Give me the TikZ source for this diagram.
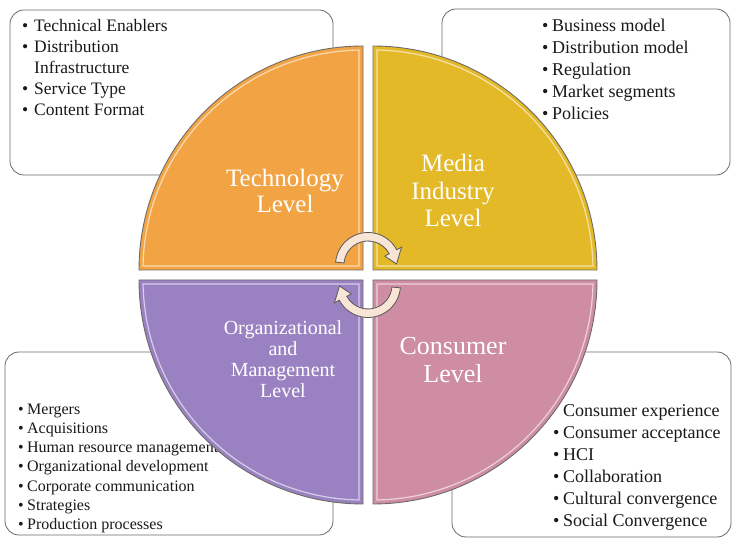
\documentclass[tikz,border=0pt]{standalone}
\usepackage{fontspec}
\setmainfont{Liberation Serif}
\definecolor{techorange}{HTML}{F2A444}
\definecolor{mediayellow}{HTML}{E4B928}
\definecolor{orgpurple}{HTML}{9A82C2}
\definecolor{conspink}{HTML}{CE8DA3}
\definecolor{turnfill}{HTML}{F8E5D6}
\definecolor{edgegray}{HTML}{6E6A66}
\newcommand{\bul}[1]{\makebox[#1][l]{\textbullet}}
\tikzset{
infobox/.style={draw=edgegray, line width=0.8pt, fill=white, rounded corners=14pt, inner sep=0pt}, % the rounded boxes behind
listtext/.style={anchor=base west, inner sep=0pt, align=left, text=black!90}, % base = last line
quad/.style={draw=edgegray, line width=0.9pt},
shine/.style={draw=white, opacity=0.6, line width=1.2pt},
levellabel/.style={text=white, align=center, inner sep=0pt},
turn/.style={fill=turnfill, draw=black!65, line width=0.8pt},
}
\begin{document}
\begin{tikzpicture}[x=1pt, y=1pt]
    \useasboundingbox (0,0) rectangle (733,538);
    % boxes
    \node[infobox, minimum width=323pt, minimum height=165pt] (techbox) at (171.5,445.5) {};
    \node[infobox, minimum width=288pt, minimum height=166pt] (mediabox) at (586,446) {};
    \node[infobox, minimum width=328pt, minimum height=183pt] (orgbox) at (169,94.5) {};
    \node[infobox, minimum width=279pt, minimum height=185pt] (consbox) at (591.5,93.5) {};
    % lists
    \node[listtext, font=\fontsize{17.5}{21}\selectfont] (techlist) at (22,422)
        {\bul{12pt}Technical Enablers\\ \bul{12pt}Distribution\\ \hspace*{12pt}Infrastructure\\ \bul{12pt}Service Type\\ \bul{12pt}Content Format};
    \node[listtext, font=\fontsize{18}{22}\selectfont] (medialist) at (542,418)
        {\bul{10pt}Business model\\ \bul{10pt}Distribution model\\ \bul{10pt}Regulation\\ \bul{10pt}Market segments\\ \bul{10pt}Policies};
    \node[listtext, font=\fontsize{16}{19.3}\selectfont] (orglist) at (18,8.2)
        {\bul{9pt}Mergers\\ \bul{9pt}Acquisitions\\ \bul{9pt}Human resource management\\ \bul{9pt}Organizational development\\ \bul{9pt}Corporate communication\\ \bul{9pt}Strategies\\ \bul{9pt}Production processes};
    \node[listtext, font=\fontsize{18}{22}\selectfont] (conslist) at (553,12)
        {\hspace*{10pt}Consumer experience\\ \bul{10pt}Consumer acceptance\\ \bul{10pt}HCI\\ \bul{10pt}Collaboration\\ \bul{10pt}Cultural convergence\\ \bul{10pt}Social Convergence};
    % the four quarters
    \foreach \cx/\cy/\rot/\col in {363/268/0/techorange, 373/268/-90/mediayellow, 363/258/90/orgpurple, 373/258/180/conspink} {
        \begin{scope}[shift={(\cx,\cy)}, rotate=\rot]
            \filldraw[quad, fill=\col] (0,0) -- (0,224) arc[start angle=90, end angle=180, radius=224] -- cycle;
            \draw[shine] (-4,4) -- (-4,219.96) arc[start angle=91.04, end angle=178.96, radius=220] -- cycle;
        \end{scope}
    }
    \node[levellabel, font=\fontsize{25}{26}\selectfont] (tech) at (285,347) {Technology\\Level};
    \node[levellabel, font=\fontsize{25}{27.5}\selectfont] (media) at (453,347.5) {Media\\Industry\\Level};
    \node[levellabel, font=\fontsize{20}{21}\selectfont] (org) at (283,179) {Organizational\\and\\Management\\Level};
    \node[levellabel, font=\fontsize{26}{28}\selectfont] (cons) at (453,178) {Consumer\\Level};
    % turning arrows
    \foreach \cy/\rot in {273/0, 253/180}
        \filldraw[turn, shift={(368,\cy)}, rotate=\rot] (175:32.5) arc[start angle=175, end angle=28, radius=32.5] -- (28:38) -- (2:28.5) -- (28:19) -- (28:24) arc[start angle=28, end angle=175, radius=24] -- cycle;
\end{tikzpicture}
\end{document}
